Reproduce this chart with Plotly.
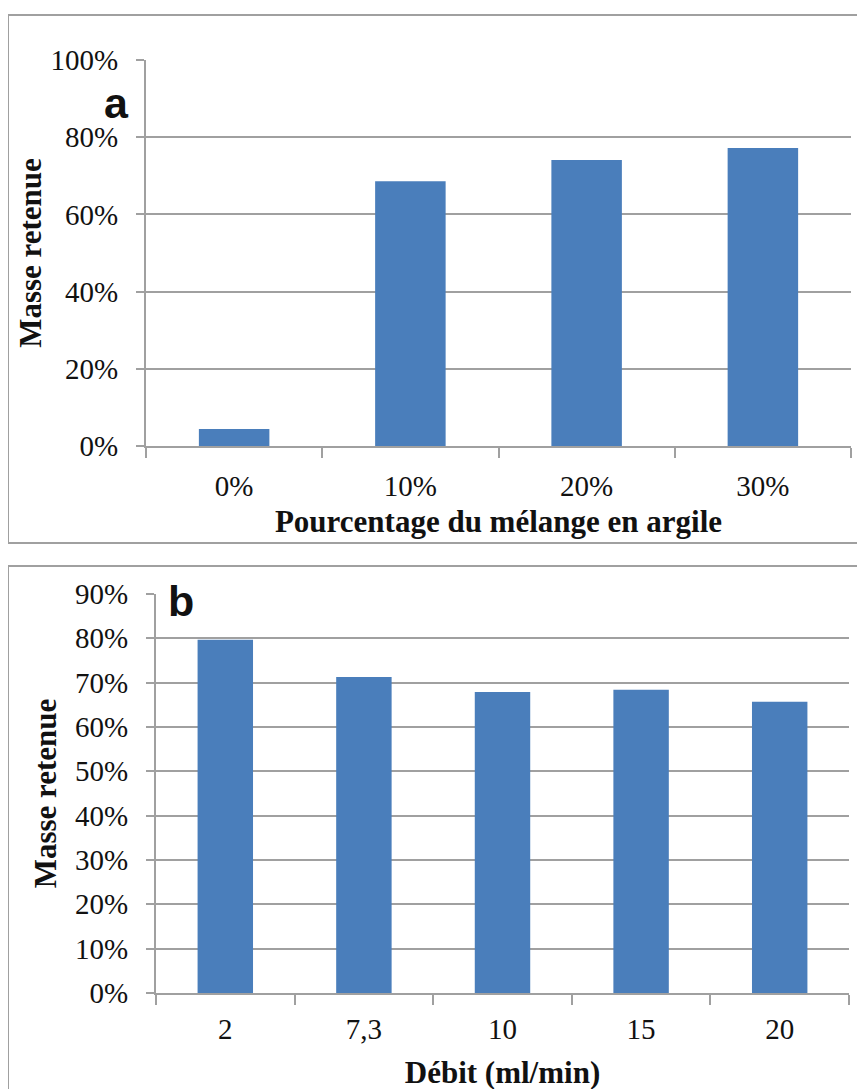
import plotly.graph_objects as go

# panel a: retained mass vs clay content
argile = ["0%", "10%", "20%", "30%"]
masse_a = [0.044, 0.686, 0.741, 0.772]

# panel b: retained mass vs flow rate
debit = ["2", "7,3", "10", "15", "20"]
masse_b = [0.797, 0.713, 0.679, 0.684, 0.657]

W, H = 865, 1089
OFF = 8  # page body margin
BLUE = "#4a7ebb"
GRID = "#a0a0a0"
SERIF = "Liberation Serif"


def px(x):
    return (x - OFF) / W


def py(y):
    return 1 - (y - OFF) / H


fig = go.Figure()
fig.add_trace(go.Bar(x=argile, y=masse_a, marker_color=BLUE, marker_line_width=0,
                     xaxis="x", yaxis="y", showlegend=False))
fig.add_trace(go.Bar(x=debit, y=masse_b, marker_color=BLUE, marker_line_width=0,
                     xaxis="x2", yaxis="y2", showlegend=False))

tick_font = dict(family=SERIF, size=29, color="#111111")
xcommon = dict(
    type="category", showline=True, linecolor=GRID, linewidth=2, automargin=False,
    ticks="outside", tickson="boundaries", ticklen=10, tickwidth=2, tickcolor=GRID,
    showgrid=False, tickfont=tick_font,
)
ycommon = dict(
    showline=True, linecolor=GRID, linewidth=2, ticks="outside", ticklen=8,
    tickwidth=2, tickcolor=GRID, showgrid=True, gridcolor=GRID, gridwidth=2,
    zeroline=False, tickformat=".0%", ticklabelstandoff=12, automargin=False,
    tickfont=tick_font,
)
title_font = dict(family=SERIF, size=31, color="#111111", weight="bold")

fig.update_layout(
    width=W, height=H, margin=dict(l=0, r=0, t=0, b=0, autoexpand=False),
    paper_bgcolor="white", plot_bgcolor="white", bargap=0.6,
    font=dict(family=SERIF),
    xaxis=dict(xcommon, domain=[px(146), px(851)], anchor="y", ticklabelstandoff=13,
               title=dict(text="Pourcentage du mélange en argile", font=title_font, standoff=10)),
    yaxis=dict(ycommon, domain=[py(446), py(60)], anchor="x", range=[0, 1], dtick=0.2,
               title=dict(text="Masse retenue", font=title_font, standoff=0)),
    xaxis2=dict(xcommon, domain=[px(156), px(849)], anchor="y2", ticklabelstandoff=9,
                title=dict(text="Débit (ml/min)", font=title_font, standoff=18)),
    yaxis2=dict(ycommon, domain=[py(993), py(594)], anchor="x2", range=[0, 0.9], dtick=0.1,
                title=dict(text="Masse retenue", font=title_font, standoff=9)),
)

# panel frames
fig.add_shape(type="rect", xref="paper", yref="paper", x0=px(8), x1=1.02,
              y0=py(543), y1=py(15), line=dict(color=GRID, width=2))
fig.add_shape(type="rect", xref="paper", yref="paper", x0=px(8), x1=1.02,
              y0=-0.02, y1=py(566), line=dict(color=GRID, width=2))

# panel letters
lab_font = dict(family="Liberation Sans", size=43, color="#111", weight="bold")
fig.add_annotation(text="a", xref="paper", yref="paper", x=px(116), y=py(103),
                   xanchor="center", yanchor="middle", showarrow=False, font=lab_font)
fig.add_annotation(text="b", xref="paper", yref="paper", x=px(181), y=py(601),
                   xanchor="center", yanchor="middle", showarrow=False, font=lab_font,
                   bgcolor="white", borderpad=6)

fig.write_html("out.html")
